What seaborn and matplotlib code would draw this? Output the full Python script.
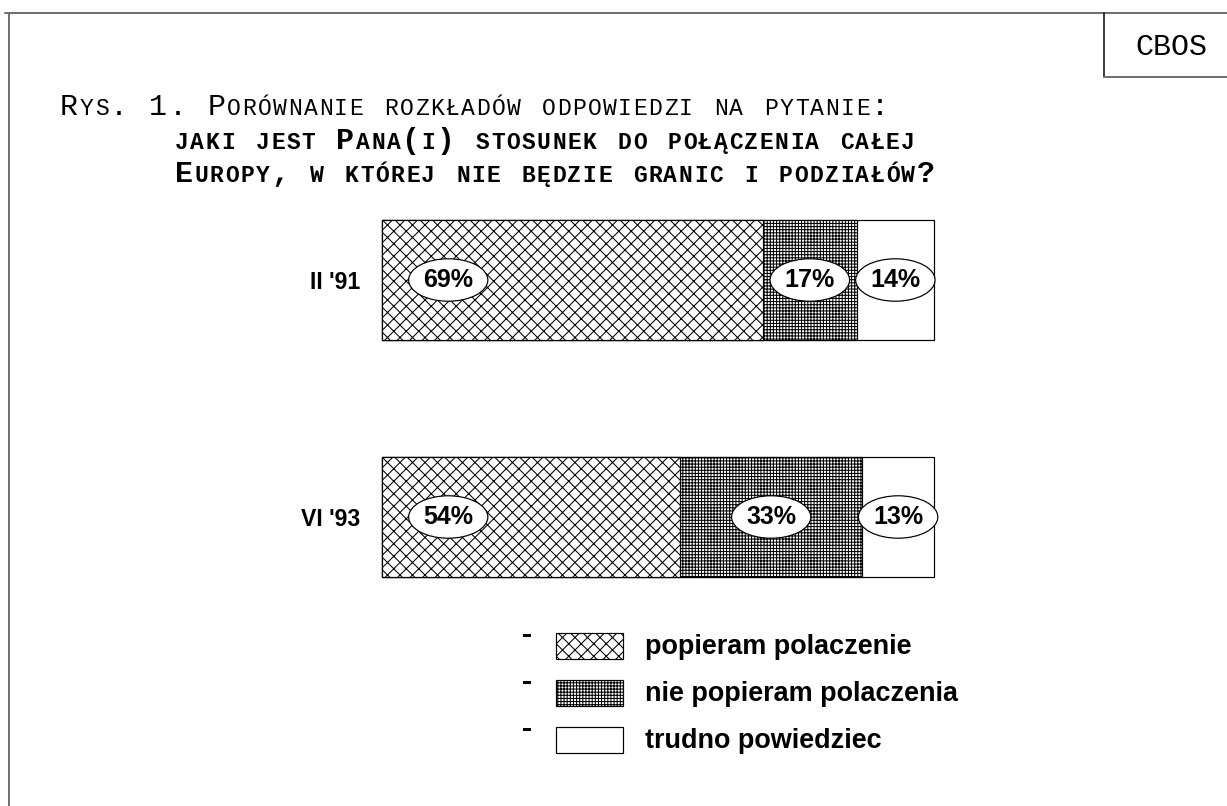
import pandas as pd
import seaborn as sns
import matplotlib.pyplot as plt
from matplotlib.patches import Rectangle

# dane z rysunku (CBOS)
okresy = ["II '91", "VI '93"]
popieram = [69, 54]
nie_popieram = [17, 33]
trudno = [14, 13]
kategorie = ["popieram polaczenie", "nie popieram polaczenia", "trudno powiedziec"]
tytul = ["Rys. 1. Porównanie rozkładów odpowiedzi na pytanie:",
         "jaki jest Pana(i) stosunek do połączenia całej",
         "Europy, w której nie będzie granic i podziałów?"]

DPI = 75
W, H = 1227, 806


def pt(px):
    return px * 72 / DPI


sns.set_style('white')
plt.rcParams['hatch.linewidth'] = 1.0
plt.rcParams['text.color'] = 'black'
plt.rcParams['ytick.color'] = 'black'
plt.rcParams['font.family'] = ['Liberation Sans', 'DejaVu Sans']

df = pd.DataFrame({'okres': okresy, 'p1': popieram, 'p2': nie_popieram, 'p3': trudno})
df['c1'] = df['p1']
df['c2'] = df['p1'] + df['p2']
df['c3'] = df['c2'] + df['p3']

fig = plt.figure(figsize=(W / DPI, H / DPI), dpi=DPI)

# tlo w pikselach: ramka, tytul, legenda
tlo = fig.add_axes([0, 0, 1, 1])
tlo.set_xlim(0, W)
tlo.set_ylim(H, 0)
tlo.axis('off')

szary = '#707070'
tlo.plot([5, W], [13, 13], color=szary, lw=pt(2))
tlo.plot([9, 9], [13, H], color=szary, lw=pt(2))
tlo.plot([1104, 1104], [13, 77], color='black', lw=pt(1.5))
tlo.plot([1104, W], [77, 77], color=szary, lw=pt(2))
tlo.text(1135, 55, 'CBOS', family='Liberation Mono', fontsize=pt(30), va='baseline')

# tytul kapitalikami
L, S = 30, 23


def kapitaliki(x, y, tekst, waga, odstep):
    for ch in tekst:
        size = S if ch.islower() else L
        tlo.text(x, y, ch.upper(), family='Liberation Mono', weight=waga,
                 fontsize=pt(size), va='baseline', ha='left')
        x += 0.6 * size + odstep


kapitaliki(60, 115, tytul[0], 'normal', 1.5)
kapitaliki(175, 149, tytul[1], 'bold', 1.5)
kapitaliki(175, 182, tytul[2], 'bold', 1.5)

# slupki
rzad = 237
gora = 280 - rzad / 2
dol = 517 + rzad / 2
ax = fig.add_axes([382 / W, 1 - dol / H, 552 / W, (dol - gora) / H])
ax.patch.set_alpha(0)

wzory = ['xx', '++++', '']
for kol, wz in zip(['c3', 'c2', 'c1'], wzory[::-1]):
    sns.barplot(data=df, x=kol, y='okres', orient='y', color='white', saturation=1,
                edgecolor='black', linewidth=pt(1.2), width=0.506, hatch=wz,
                errorbar=None, ax=ax)
for p in ax.patches:
    p.set_clip_on(False)

ax.set_xlim(0, 100)
ax.set_ylim(1.5, -0.5)
ax.set_xlabel('')
ax.set_ylabel('')
ax.set_xticks([])
ax.tick_params(axis='y', length=0, pad=pt(22))
for t in ax.get_yticklabels():
    t.set_fontsize(pt(23))
    t.set_fontweight('bold')
sns.despine(ax=ax, left=True, bottom=True)

for i, r in df.iterrows():
    starts = [0, r['c1'], r['c2']]
    vals = [r['p1'], r['p2'], r['p3']]
    for j, (s0, v) in enumerate(zip(starts, vals)):
        x = s0 + 12 if j == 0 else s0 + v / 2
        ax.text(x, i, f'{v}%', ha='center', va='center', fontsize=pt(25),
                weight='bold',
                bbox=dict(boxstyle='ellipse,pad=0.12', fc='white', ec='black', lw=pt(1.2)))

# legenda
for i, (lab, wz) in enumerate(zip(kategorie, wzory)):
    yc = 646 + i * 47
    tlo.add_patch(Rectangle((523, yc - 12), 8, 3, fc='black', ec='none'))
    tlo.add_patch(Rectangle((556, yc - 13), 67, 26, fc='white', ec='black',
                            lw=pt(1.2), hatch=wz))
    tlo.text(645, yc + 8, lab, fontsize=pt(27), weight='bold', va='baseline')

fig.savefig('out.png', dpi=DPI)
